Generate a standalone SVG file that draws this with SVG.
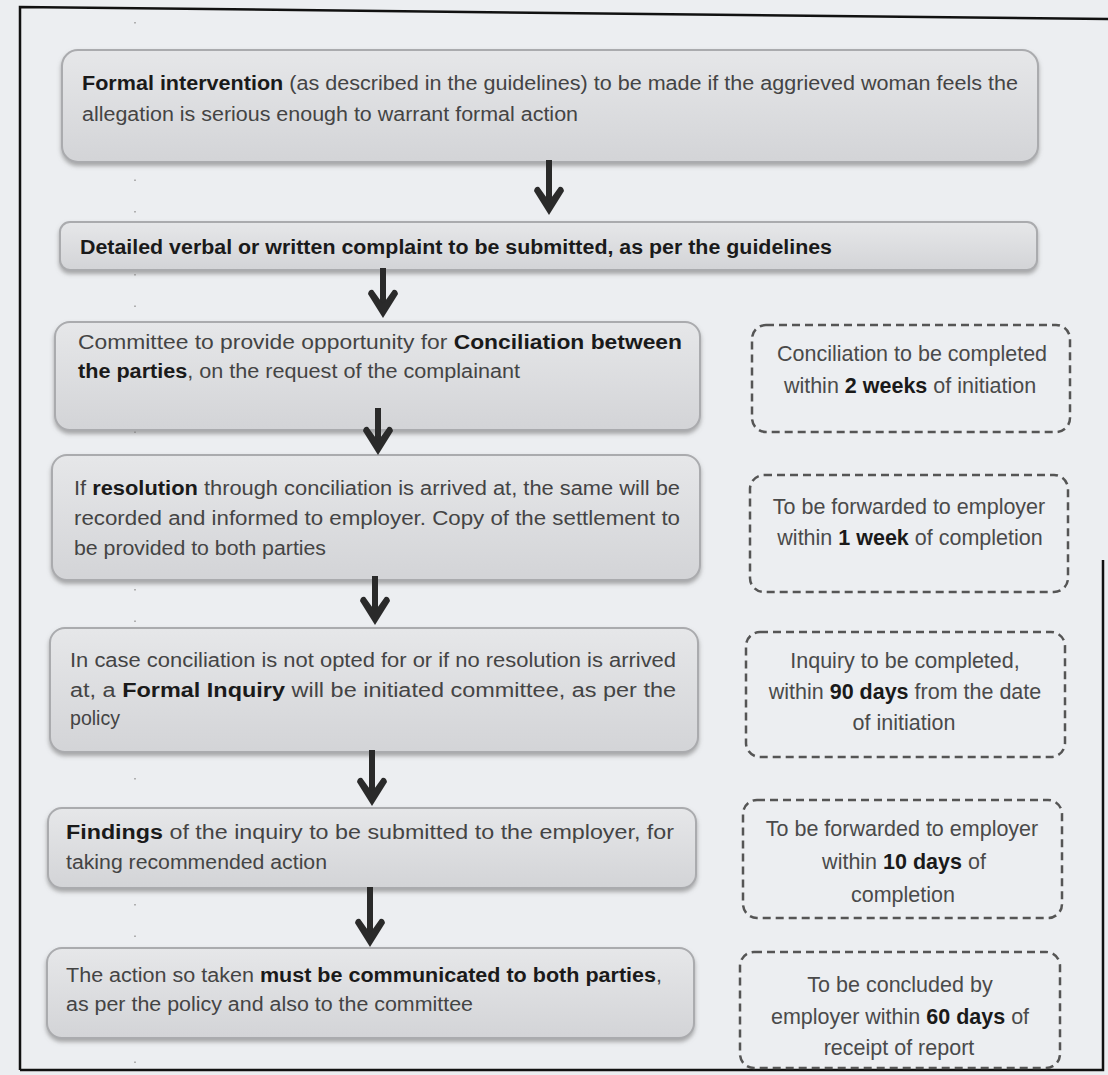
<svg xmlns="http://www.w3.org/2000/svg" width="1108" height="1075" viewBox="0 0 1108 1075">
<defs>
<linearGradient id="boxg" x1="0" y1="0" x2="0" y2="1">
<stop offset="0" stop-color="#e6e7e9"/>
<stop offset="1" stop-color="#d3d4d7"/>
</linearGradient>
<filter id="sh" x="-5%" y="-10%" width="110%" height="130%">
<feDropShadow dx="0" dy="3" stdDeviation="2" flood-color="#777" flood-opacity="0.6"/>
</filter>
<symbol id="ah" overflow="visible">
<path d="M0,0 L-15,-24 Q-14,-29 -10,-28 L0,-14 L10,-28 Q14,-29 15,-24 Z"/>
</symbol>
</defs>
<style>
.bg{fill:#eceef1}
.frame{fill:none;stroke:#111;stroke-width:2.5}
.box{fill:url(#boxg);stroke:#aaabae;stroke-width:2;filter:url(#sh)}
.dbox{fill:none;stroke:#555;stroke-width:2.5;stroke-dasharray:8 5}
.t{font-family:"Liberation Sans",Arial,sans-serif;font-size:19.5px;fill:#444}
.d{font-family:"Liberation Sans",Arial,sans-serif;font-size:21.5px;fill:#4a4a4a;text-anchor:middle}
.b{font-weight:bold;fill:#1a1a1a}
.shaft{stroke:#2a2a2a;stroke-width:6;fill:none}
.head{fill:#2a2a2a}
.dots{stroke:#9a9a9a;stroke-width:1.5;stroke-dasharray:1.5 30;fill:none}
</style>
<rect class="bg" x="0" y="0" width="1108" height="1075"/>
<path class="frame" d="M20,1070 L20,7 L1108,19"/>
<path class="frame" d="M20,1070 L1103,1070 L1103,560"/>
<line class="dots" x1="135" y1="22" x2="135" y2="1068"/>

<g id="n1">
<rect class="box" x="62" y="50" width="976" height="112" rx="16"/>
<text class="t" x="82" y="90" textLength="936" lengthAdjust="spacingAndGlyphs"><tspan class="b">Formal intervention</tspan> (as described in the guidelines) to be made if the aggrieved woman feels the</text>
<text class="t" x="82" y="121" textLength="496" lengthAdjust="spacingAndGlyphs">allegation is serious enough to warrant formal action</text>
</g>

<g id="n2">
<rect class="box" x="60" y="222" width="977" height="48" rx="10"/>
<text class="t b" x="80" y="254" textLength="752" lengthAdjust="spacingAndGlyphs">Detailed verbal or written complaint to be submitted, as per the guidelines</text>
</g>

<g id="n3">
<rect class="box" x="55" y="322" width="645" height="108" rx="15"/>
<text class="t" x="78" y="349" textLength="604" lengthAdjust="spacingAndGlyphs">Committee to provide opportunity for <tspan class="b">Conciliation between</tspan></text>
<text class="t" x="78" y="378" textLength="442" lengthAdjust="spacingAndGlyphs"><tspan class="b">the parties</tspan>, on the request of the complainant</text>
</g>

<g id="n4">
<rect class="box" x="52" y="455" width="648" height="125" rx="15"/>
<text class="t" x="74" y="495" textLength="606" lengthAdjust="spacingAndGlyphs">If <tspan class="b">resolution</tspan> through conciliation is arrived at, the same will be</text>
<text class="t" x="74" y="525" textLength="606" lengthAdjust="spacingAndGlyphs">recorded and informed to employer. Copy of the settlement to</text>
<text class="t" x="74" y="555" textLength="252" lengthAdjust="spacingAndGlyphs">be provided to both parties</text>
</g>

<g id="n5">
<rect class="box" x="50" y="628" width="648" height="124" rx="15"/>
<text class="t" x="70" y="667" textLength="606" lengthAdjust="spacingAndGlyphs">In case conciliation is not opted for or if no resolution is arrived</text>
<text class="t" x="70" y="697" textLength="606" lengthAdjust="spacingAndGlyphs">at, a <tspan class="b">Formal Inquiry</tspan> will be initiated committee, as per the</text>
<text class="t" x="70" y="725" textLength="50" lengthAdjust="spacingAndGlyphs">policy</text>
</g>

<g id="n6">
<rect class="box" x="48" y="808" width="648" height="80" rx="14"/>
<text class="t" x="66" y="839" textLength="608" lengthAdjust="spacingAndGlyphs"><tspan class="b">Findings</tspan> of the inquiry to be submitted to the employer, for</text>
<text class="t" x="66" y="869" textLength="261" lengthAdjust="spacingAndGlyphs">taking recommended action</text>
</g>

<g id="n7">
<rect class="box" x="47" y="948" width="647" height="90" rx="15"/>
<text class="t" x="66" y="982" textLength="596" lengthAdjust="spacingAndGlyphs">The action so taken <tspan class="b">must be communicated to both parties</tspan>,</text>
<text class="t" x="66" y="1011" textLength="407" lengthAdjust="spacingAndGlyphs">as per the policy and also to the committee</text>
</g>

<g id="d1">
<rect class="dbox" x="752" y="325" width="318" height="107" rx="14"/>
<text class="d" x="912" y="361">Conciliation to be completed</text>
<text class="d" x="910" y="393">within <tspan class="b">2 weeks</tspan> of initiation</text>
</g>

<g id="d2">
<rect class="dbox" x="750" y="475" width="318" height="117" rx="14"/>
<text class="d" x="909" y="514">To be forwarded to employer</text>
<text class="d" x="910" y="545">within <tspan class="b">1 week</tspan> of completion</text>
</g>

<g id="d3">
<rect class="dbox" x="746" y="632" width="319" height="125" rx="14"/>
<text class="d" x="905" y="668">Inquiry to be completed,</text>
<text class="d" x="905" y="699">within <tspan class="b">90 days</tspan> from the date</text>
<text class="d" x="904" y="730">of initiation</text>
</g>

<g id="d4">
<rect class="dbox" x="743" y="800" width="319" height="118" rx="14"/>
<text class="d" x="902" y="836">To be forwarded to employer</text>
<text class="d" x="904" y="869">within <tspan class="b">10 days</tspan> of</text>
<text class="d" x="903" y="902">completion</text>
</g>

<g id="d5">
<rect class="dbox" x="740" y="952" width="320" height="116" rx="14"/>
<text class="d" x="900" y="992">To be concluded by</text>
<text class="d" x="900" y="1024">employer within <tspan class="b">60 days</tspan> of</text>
<text class="d" x="899" y="1055">receipt of report</text>
</g>

<g id="connectors">
<line class="shaft" x1="549" y1="160" x2="549" y2="202"/><use href="#ah" x="549" y="215" class="head"/>
<line class="shaft" x1="383" y1="268" x2="383" y2="305"/><use href="#ah" x="383" y="318" class="head"/>
<line class="shaft" x1="378" y1="408" x2="378" y2="442"/><use href="#ah" x="378" y="455" class="head"/>
<line class="shaft" x1="375" y1="576" x2="375" y2="612"/><use href="#ah" x="375" y="625" class="head"/>
<line class="shaft" x1="372" y1="750" x2="372" y2="793"/><use href="#ah" x="372" y="806" class="head"/>
<line class="shaft" x1="370" y1="887" x2="370" y2="934"/><use href="#ah" x="370" y="947" class="head"/>
</g>
</svg>
